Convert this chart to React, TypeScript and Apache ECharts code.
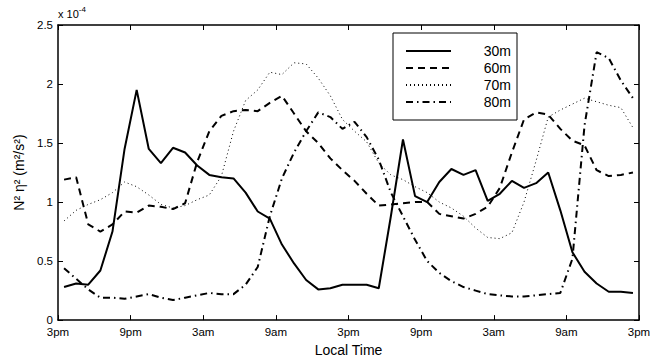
import React, { useEffect, useRef } from "react";
import * as echarts from "echarts";

// hours after 3pm of each sample (half-hour centred, hourly)
const hours: number[] = Array.from({ length: 48 }, (_, i) => i + 0.5);
const tickLabels = ["3pm", "9pm", "3am", "9am"];
const seriesNames = ["30m", "60m", "70m", "80m"];

// values in units of 1e-4 m^2/s^2
const v30 = [0.28, 0.31, 0.30, 0.42, 0.75, 1.45, 1.95, 1.45, 1.33, 1.46, 1.42, 1.31, 1.23, 1.21, 1.20, 1.08,
  0.92, 0.86, 0.64, 0.48, 0.34, 0.26, 0.27, 0.30, 0.30, 0.30, 0.27, 0.88, 1.53, 1.05, 1.00, 1.17,
  1.28, 1.23, 1.27, 1.01, 1.07, 1.18, 1.12, 1.16, 1.25, 0.93, 0.575, 0.41, 0.31, 0.24, 0.24, 0.23];
const v60 = [1.19, 1.21, 0.81, 0.75, 0.81, 0.92, 0.91, 0.97, 0.96, 0.94, 0.99, 1.34, 1.60, 1.73, 1.77, 1.78,
  1.77, 1.84, 1.90, 1.75, 1.60, 1.50, 1.37, 1.27, 1.18, 1.07, 0.97, 0.98, 0.99, 1.00, 1.00, 0.90,
  0.88, 0.86, 0.90, 0.96, 1.12, 1.42, 1.70, 1.76, 1.74, 1.62, 1.52, 1.48, 1.27, 1.22, 1.23, 1.25];
const v70 = [0.84, 0.93, 0.98, 1.02, 1.08, 1.17, 1.13, 1.06, 0.98, 0.95, 0.97, 1.02, 1.06, 1.22, 1.60, 1.86,
  1.95, 2.10, 2.08, 2.18, 2.17, 2.05, 1.90, 1.70, 1.60, 1.51, 1.33, 1.23, 1.19, 1.13, 1.08, 1.00,
  0.95, 0.88, 0.78, 0.70, 0.69, 0.74, 1.00, 1.35, 1.72, 1.78, 1.83, 1.88, 1.85, 1.82, 1.80, 1.63];
const v80 = [0.44, 0.35, 0.26, 0.19, 0.19, 0.18, 0.20, 0.22, 0.19, 0.17, 0.19, 0.21, 0.23, 0.22, 0.22, 0.30,
  0.45, 0.88, 1.20, 1.42, 1.60, 1.76, 1.72, 1.62, 1.68, 1.55, 1.36, 1.08, 0.88, 0.68, 0.50, 0.40,
  0.33, 0.28, 0.25, 0.22, 0.21, 0.20, 0.20, 0.21, 0.22, 0.23, 0.52, 1.65, 2.27, 2.22, 2.03, 1.88];

const FONT = "Liberation Sans";

export default function App() {
  const ref = useRef<HTMLDivElement>(null);
  useEffect(() => {
    if (!ref.current) return;
    const chart = echarts.init(ref.current, null, { renderer: "svg" });
    const pair = (vals: number[]) => vals.map((v, i) => [hours[i], v]);
    const styles: any[] = [
      { color: "#000", width: 2, type: "solid" },
      { color: "#000", width: 2, type: [7, 5] },
      { color: "#000", width: 1, type: [1, 3] },
      { color: "#000", width: 2, type: [7, 4, 1.5, 4] },
    ];
    const data = [v30, v60, v70, v80];
    const axisCommon = {
      axisLine: { show: true, onZero: false, lineStyle: { color: "#000", width: 1.5 } },
      axisTick: { show: true, inside: true, length: 5, lineStyle: { color: "#000", width: 1 } },
      splitLine: { show: false },
    };
    chart.setOption({
      animation: false,
      backgroundColor: "#fff",
      textStyle: { fontFamily: FONT },
      grid: { left: 58, right: 22, top: 25, bottom: 38 },
      xAxis: [
        {
          type: "value", min: 0, max: 48, interval: 6, position: "bottom",
          ...axisCommon,
          axisLabel: {
            color: "#000", fontSize: 11.5, fontFamily: FONT, margin: 6, lineHeight: 12,
            formatter: (v: number) => tickLabels[Math.round(v / 6) % 4],
          },
          name: "Local Time", nameLocation: "middle", nameGap: 21,
          nameTextStyle: { color: "#000", fontSize: 14, fontFamily: FONT },
        },
        {
          type: "value", min: 0, max: 48, interval: 6, position: "top",
          ...axisCommon, axisLabel: { show: false },
        },
      ],
      yAxis: [
        {
          type: "value", min: 0, max: 2.5, interval: 0.5, position: "left",
          ...axisCommon,
          axisLabel: { color: "#000", fontSize: 11.5, fontFamily: FONT, margin: 5, verticalAlign: "middle", lineHeight: 11 },
          name: "N\u00b2 \u03b7\u00b2 (m\u00b2/s\u00b2)", nameLocation: "middle", nameRotate: 90, nameGap: 32,
          nameTextStyle: { color: "#000", fontSize: 14, fontFamily: FONT },
        },
        {
          type: "value", min: 0, max: 2.5, interval: 0.5, position: "right",
          ...axisCommon, axisLabel: { show: false },
        },
      ],
      legend: {
        orient: "vertical", left: 393, top: 33,
        padding: [11, 6, 11, 12], itemGap: 3, itemWidth: 45, itemHeight: 14,
        borderColor: "#000", borderWidth: 1, backgroundColor: "#fff",
        data: seriesNames,
        itemStyle: { opacity: 0 },
        formatter: "{a|{name}}",
        textStyle: {
          color: "#000", fontFamily: FONT, fontSize: 14,
          rich: { a: { width: 55, align: "right", fontSize: 14, fontFamily: FONT, color: "#000" } },
        },
      },
      graphic: [
        {
          type: "text", left: 58, top: 5,
          style: {
            text: "{a|x 10}{b|-4}",
            rich: {
              a: { fontSize: 11, fontFamily: FONT, fill: "#000", padding: [6, 0, 0, 0] },
              b: { fontSize: 8, fontFamily: FONT, fill: "#000", padding: [0, 0, 4, 0] },
            },
          },
        },
      ],
      series: data.map((vals, k) => ({
        name: seriesNames[k], type: "line", data: pair(vals), showSymbol: false, symbol: "none",
        lineStyle: styles[k], itemStyle: { color: "#000" }, z: 10 - k,
      })),
    });
    return () => chart.dispose();
  }, []);
  return <div ref={ref} style={{ width: 661, height: 362, position: "absolute", left: 0, top: 0 }} />;
}
